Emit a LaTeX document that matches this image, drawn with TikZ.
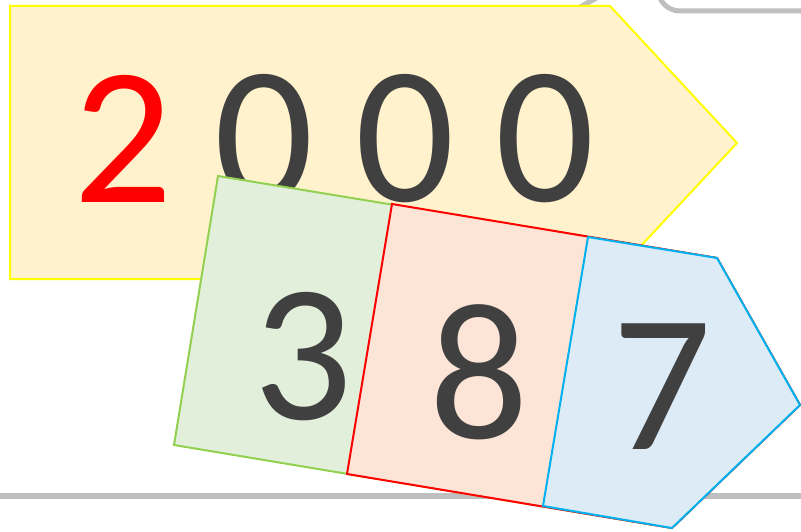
\documentclass[tikz,border=0pt]{standalone}
\usepackage{fontspec}
\setmainfont{Carlito}
\definecolor{ybody}{HTML}{FFF2CC}
\definecolor{yline}{HTML}{FFFF00}
\definecolor{gbody}{HTML}{E2EFDA}
\definecolor{gline}{HTML}{92D050}
\definecolor{rbody}{HTML}{FCE4D6}
\definecolor{rline}{HTML}{FF0000}
\definecolor{bbody}{HTML}{DDEBF7}
\definecolor{bline}{HTML}{00B0F0}
\definecolor{digit}{HTML}{404040}
\definecolor{grayline}{HTML}{BFBFBF}
\tikzset{
  bigdigit/.style={inner sep=0pt, anchor=center, text=digit, font=\fontsize{196}{196}\selectfont},
  shapeline/.style={line width=2pt, line join=miter},
  grayrule/.style={draw=grayline, line width=6pt}
}
\begin{document}
\begin{tikzpicture}[x=1pt,y=-1pt]
\useasboundingbox (0,0) rectangle (801,532);
\begin{scope}
\clip (0,0) rectangle (801,532);
% background gray lines
\coordinate (gl1) at (-5,496);
\coordinate (gl2) at (806,496);
\draw[grayrule] (gl1) -- (gl2);
\coordinate (gd1) at (560,18);
\coordinate (gd2) at (602,-5);
\draw[grayrule, line width=5pt] (gd1) -- (gd2);
\coordinate (gr1) at (658,-40);
\coordinate (gr2) at (658,11);
\coordinate (gr3) at (820,11);
\draw[grayrule, line width=5pt, rounded corners=22pt] (gr1) -- (gr2) -- (gr3);
% yellow arrow
\draw[shapeline, draw=yline, fill=ybody] (10,6) -- (610,6) -- (737,143) -- (610,279) -- (10,279) -- cycle;
\node[bigdigit, text=rline] (d2) at (123,139) {2};
\node[bigdigit] (d0a) at (264,139) {0};
\node[bigdigit] (d0b) at (405,139) {0};
\node[bigdigit] (d0c) at (545,139) {0};
% tilted arrow parts
\draw[shapeline, draw=gline, fill=gbody] (218,176) -- (717,258) -- (800,405) -- (672,528) -- (174,445) -- cycle;
\draw[shapeline, draw=rline, fill=rbody] (392,204) -- (717,258) -- (800,405) -- (672,528) -- (347,474) -- cycle;
\draw[shapeline, draw=bline, fill=bbody] (588,237) -- (717,258) -- (800,405) -- (672,528) -- (543,506) -- cycle;
\node[bigdigit] (d3) at (303,357) {3};
\node[bigdigit] (d8) at (479,372) {8};
\node[bigdigit] (d7) at (662,387) {7};
\end{scope}
\end{tikzpicture}
\end{document}
